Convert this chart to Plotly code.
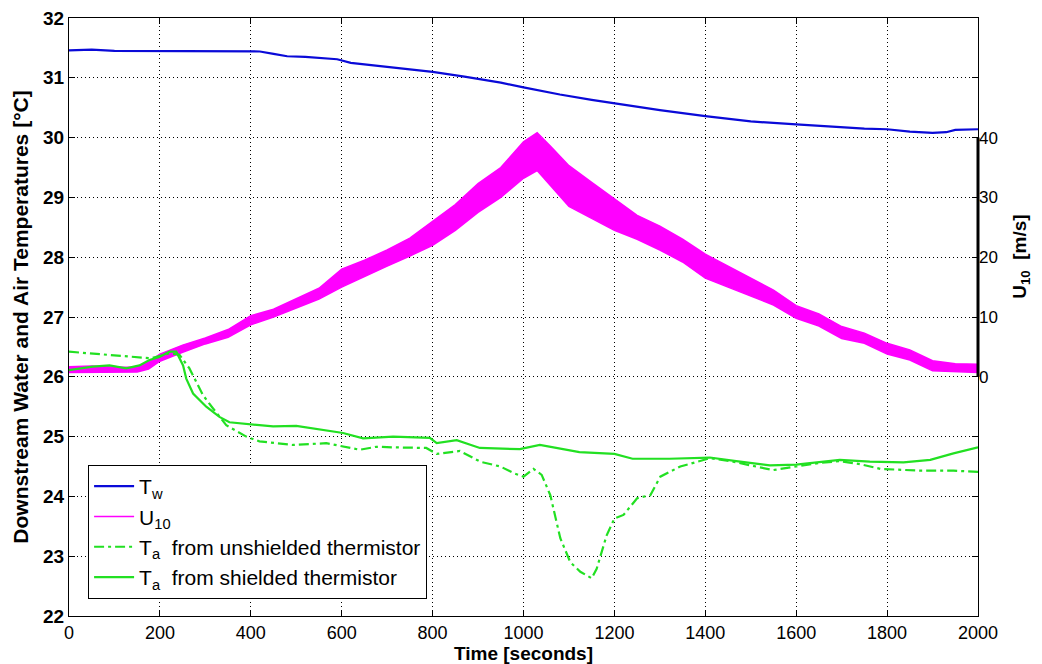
import plotly.graph_objects as go

# ---- data ----
tw_t = [0, 50, 100, 200, 300, 400, 420, 450, 480, 520, 560, 590, 620, 680, 750, 800, 870, 950,
        1000, 1080, 1150, 1200, 1300, 1400, 1500, 1600, 1700, 1750, 1800, 1850, 1900, 1930, 1950, 2000]
tw_v = [31.46, 31.47, 31.45, 31.45, 31.45, 31.44, 31.44, 31.40, 31.36, 31.35, 31.33, 31.31, 31.25,
        31.20, 31.14, 31.10, 31.02, 30.92, 30.84, 30.72, 30.63, 30.57, 30.46, 30.36, 30.27, 30.22,
        30.17, 30.15, 30.14, 30.10, 30.08, 30.09, 30.13, 30.14]

u_t = [0, 50, 100, 150, 175, 200, 250, 300, 350, 400, 450, 500, 550, 600, 650, 700, 750, 800, 850,
       900, 950, 1000, 1030, 1060, 1100, 1150, 1200, 1250, 1300, 1350, 1400, 1450, 1500, 1550, 1600,
       1650, 1700, 1750, 1800, 1850, 1900, 1950, 2000]
u_low = [0.7, 0.7, 0.8, 0.8, 1.3, 2.6, 4.1, 5.5, 6.6, 8.7, 10.0, 11.5, 13.0, 15.0, 16.8, 18.5, 20.2,
         22.0, 24.5, 27.5, 30.0, 33.2, 34.5, 32.0, 28.5, 26.5, 24.5, 23.0, 21.2, 19.2, 16.5, 15.0,
         13.5, 12.0, 9.8, 8.5, 6.4, 5.6, 3.8, 2.8, 1.0, 0.8, 0.7]
u_up = [1.7, 1.8, 1.6, 1.6, 2.5, 3.8, 5.3, 6.5, 7.9, 10.2, 11.3, 13.1, 14.8, 18.0, 19.5, 21.2, 23.2,
        26.0, 28.8, 32.3, 35.0, 39.3, 40.8, 38.5, 35.3, 32.5, 29.8, 27.0, 25.2, 23.0, 20.5, 18.5,
        16.5, 14.5, 11.9, 10.5, 8.4, 7.3, 5.6, 4.5, 2.7, 2.2, 2.1]

unsh_t = [0, 100, 180, 221, 243, 265, 295, 317, 346, 390, 419, 493, 566, 640, 676, 713, 786, 809,
          860, 905, 949, 978, 1000, 1022, 1040, 1059, 1081, 1103, 1125, 1150, 1161, 1183, 1200,
          1220, 1250, 1279, 1301, 1345, 1382, 1411, 1461, 1549, 1600, 1652, 1696, 1740, 1785,
          1874, 1946, 2000]
unsh_v = [26.42, 26.36, 26.31, 26.39, 26.37, 26.14, 25.69, 25.47, 25.19, 25.00, 24.92, 24.86, 24.89,
          24.78, 24.83, 24.82, 24.81, 24.71, 24.76, 24.58, 24.50, 24.39, 24.33, 24.46, 24.36, 24.02,
          23.30, 22.90, 22.74, 22.63, 22.79, 23.35, 23.63, 23.69, 23.97, 24.02, 24.33, 24.50, 24.58,
          24.64, 24.58, 24.44, 24.50, 24.56, 24.59, 24.54, 24.46, 24.43, 24.43, 24.41]

sh_t = [0, 52, 89, 126, 155, 177, 199, 221, 236, 251, 258, 273, 302, 331, 353, 390, 449, 500, 559,
        603, 647, 713, 794, 809, 853, 904, 992, 1036, 1081, 1123, 1200, 1240, 1321, 1410, 1468,
        1542, 1600, 1652, 1696, 1762, 1836, 1895, 1946, 2000]
sh_v = [26.11, 26.17, 26.19, 26.14, 26.19, 26.28, 26.33, 26.42, 26.42, 26.19, 25.97, 25.72, 25.50,
        25.33, 25.24, 25.21, 25.17, 25.18, 25.11, 25.06, 24.97, 25.00, 24.98, 24.89, 24.94, 24.81,
        24.79, 24.86, 24.80, 24.74, 24.71, 24.63, 24.63, 24.65, 24.59, 24.52, 24.53, 24.58, 24.61,
        24.58, 24.57, 24.61, 24.72, 24.82]

x_ticks = list(range(0, 2001, 200))
t_ticks = list(range(22, 33))
u_ticks = [0, 10, 20, 30, 40]

BLUE = "#0a0ad8"
MAG = "#ff00ff"
GREEN = "#22e022"
FONT = "Liberation Sans, Arial, sans-serif"

fig = go.Figure()

# U10 band (main y axis = wind speed, drawn underneath)
fig.add_trace(go.Scatter(x=u_t, y=u_low, mode="lines", line=dict(color=MAG, width=1.5),
                         name="U<sub>10</sub>", legendrank=2, yaxis="y", hoverinfo="skip"))
fig.add_trace(go.Scatter(x=u_t, y=u_up, mode="lines", line=dict(color=MAG, width=1.5),
                         fill="tonexty", fillcolor=MAG, showlegend=False, yaxis="y"))

# temperatures on overlaying axis
fig.add_trace(go.Scatter(x=tw_t, y=tw_v, mode="lines", line=dict(color=BLUE, width=2.2),
                         name="T<sub>w</sub>", legendrank=1, yaxis="y2"))
fig.add_trace(go.Scatter(x=unsh_t, y=unsh_v, mode="lines",
                         line=dict(color=GREEN, width=2.2, dash="10px,4px,3px,4px"),
                         name="T<sub>a</sub>  from unshielded thermistor", legendrank=3, yaxis="y2"))
fig.add_trace(go.Scatter(x=sh_t, y=sh_v, mode="lines", line=dict(color=GREEN, width=2.2),
                         name="T<sub>a</sub>  from shielded thermistor", legendrank=4, yaxis="y2"))

grid = dict(showgrid=True, gridcolor="black", gridwidth=1, griddash="1px,3px")

fig.update_layout(
    width=1042, height=664,
    margin=dict(l=69, r=64, t=18, b=48, autoexpand=False),
    paper_bgcolor="white", plot_bgcolor="white",
    font=dict(family=FONT, color="black"),
    showlegend=True,
    legend=dict(x=0.021, y=0.2525, xanchor="left", yanchor="top", traceorder="normal",
                bgcolor="white", bordercolor="black", borderwidth=1,
                font=dict(size=21, family=FONT),
                tracegroupgap=0, itemwidth=40),
    xaxis=dict(range=[0, 2000], tickvals=x_ticks, ticks="inside", ticklen=6, tickcolor="black",
               showline=True, linecolor="black", linewidth=1, mirror="ticks", zeroline=False,
               automargin=False,
               tickfont=dict(family=FONT, size=18),
               title=dict(text="<b>Time [seconds]</b>", font=dict(family=FONT, size=19), standoff=0),
               **grid),
    yaxis=dict(range=[-40, 60], tickvals=u_ticks, side="right", ticks="inside", ticklen=6,
               tickcolor="black", showline=False, showgrid=False, zeroline=False, automargin=False,
               tickfont=dict(size=17), anchor="x"),
    yaxis2=dict(range=[22, 32], tickvals=t_ticks, ticktext=[f"<b>{v}</b>" for v in t_ticks],
                overlaying="y", side="left", ticks="inside",
                ticklen=6, tickcolor="black", showline=True, linecolor="black", linewidth=1,
                mirror="ticks", zeroline=False, anchor="x", automargin=False,
                tickfont=dict(size=19, family=FONT),
                title=dict(text="<b>Downstream Water and Air Temperatures [°C]</b>",
                           font=dict(size=21), standoff=8),
                **grid),
    shapes=[dict(type="line", xref="paper", yref="y", x0=1, x1=1, y0=0, y1=40,
                 line=dict(color="black", width=3))],
    annotations=[dict(text="<b>U<sub>10</sub>  [m/s]</b>", xref="paper", yref="y",
                      x=1.048, y=20, textangle=-90, showarrow=False,
                      font=dict(size=19), xanchor="center", yanchor="middle")],
)

fig.write_html("out.html")
